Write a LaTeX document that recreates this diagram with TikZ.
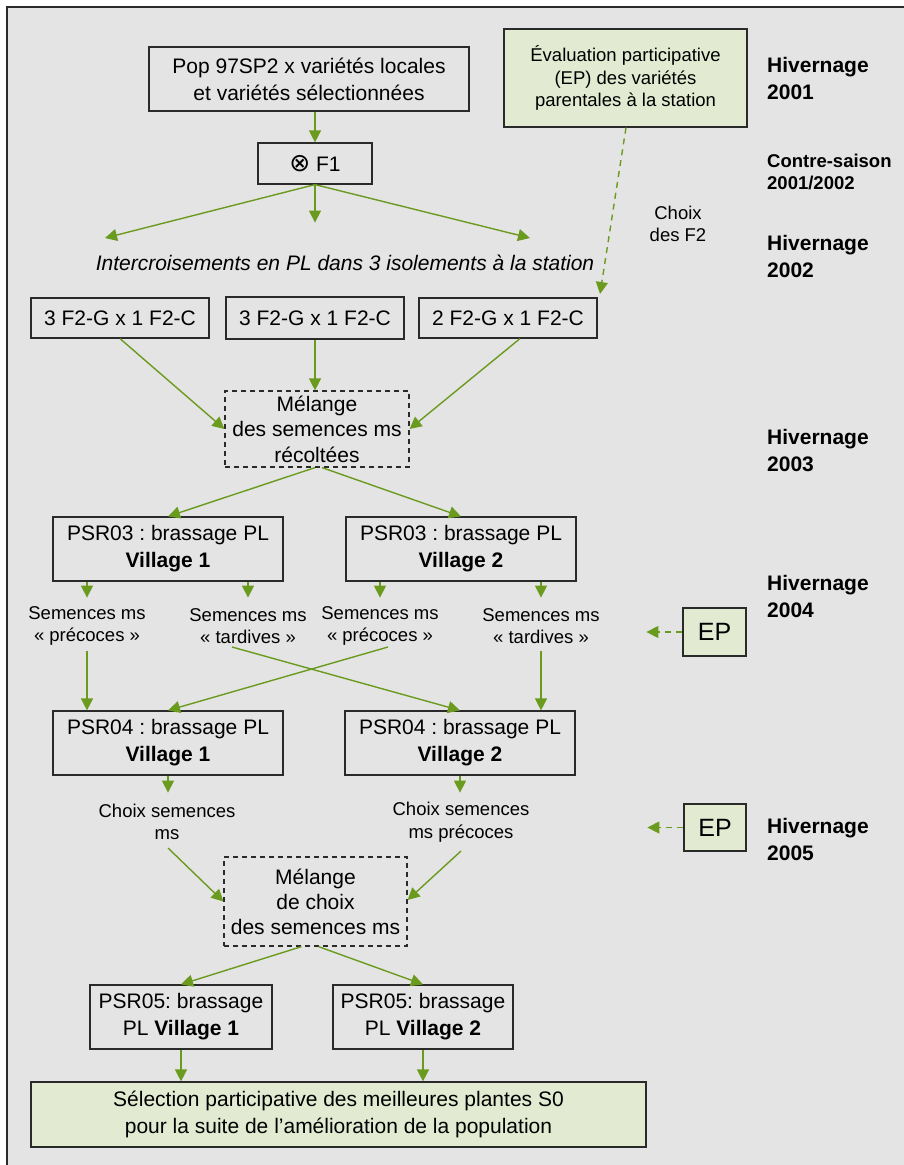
\documentclass[tikz,border=0pt]{standalone}
\usepackage{fontspec}
\setmainfont{Liberation Sans}
\newfontfamily\djv{DejaVu Sans}
\usetikzlibrary{arrows.meta,calc}
\definecolor{bg}{HTML}{E4E4E4}
\definecolor{grn}{HTML}{6B9B1E}
\definecolor{lgrn}{HTML}{E2EBD1}
\definecolor{edgec}{HTML}{2A2A2A}
\begin{document}
\frenchspacing
\begin{tikzpicture}[x=1pt,y=-1pt,
 box/.style={draw=edgec,line width=1.2pt,inner sep=0pt,align=center,font=\fontsize{21}{27}\selectfont},
 gbox/.style={box,fill=lgrn},
 dbox/.style={box,dash pattern=on 5pt off 4pt},
 lab/.style={inner sep=0pt,align=center,font=\fontsize{18.5}{22.5}\selectfont},
 season/.style={inner sep=0pt,align=left,anchor=west,font=\fontsize{21}{27}\selectfont\bfseries},
 arr/.style={draw=grn,line width=1.4pt,-{Triangle[length=12pt,width=12pt]}},
 darr/.style={arr,dash pattern=on 6pt off 5pt}]
\useasboundingbox (0,0) rectangle (904,1165);
\draw[edgec,line width=1.5pt,fill=bg] (7,7) rectangle (930,1190);

% top
\node[box,minimum width=320,minimum height=64] (pop) at (309,79) {Pop 97SP2 x variétés locales\\et variétés sélectionnées};
\node[box,minimum width=114,minimum height=41] (f1) at (315,163.5) {{\djv\fontsize{25}{25}\selectfont ⊗} F1};
\node[gbox,minimum width=243,minimum height=98,font=\fontsize{18.5}{22.5}\selectfont] (epa) at (625.5,78) {Évaluation participative\\(EP) des variétés\\parentales à la station};
\node[season] (h1) at (767,78.5) {Hivernage\\2001};
\node[season,font=\fontsize{18.5}{22.5}\selectfont\bfseries] (cs) at (767,172) {Contre-saison\\2001/2002};
\node[lab] (chf2) at (678,224) {Choix\\des F2};
\node[season] (h2) at (767,256) {Hivernage\\2002};
\node[inner sep=0pt,font=\fontsize{21}{27}\selectfont\itshape] (inter) at (345,263) {Intercroisements en PL dans 3 isolements à la station};

\draw[arr] (pop.south -| f1.north) -- (f1.north);
\coordinate (t1) at (105,238);
\coordinate (t3) at (530,238);
\draw[arr] (f1.south) -- (t1);
\draw[arr] (f1.south) -- ++(0,38);
\draw[arr] (f1.south) -- (t3);

% F2 row
\node[box,minimum width=178,minimum height=40] (f2a) at (120,318) {3 F2-G x 1 F2-C};
\node[box,minimum width=178,minimum height=42] (f2b) at (315,318) {3 F2-G x 1 F2-C};
\node[box,minimum width=178,minimum height=40] (f2c) at (508,318) {2 F2-G x 1 F2-C};
\coordinate (dend) at (600,294);
\draw[darr] ($(epa.south)+(0.5,0)$) -- (dend);

\node[dbox,minimum width=184,minimum height=76,font=\fontsize{21}{25.5}\selectfont] (mel1) at (317,429) {Mélange\\des semences ms\\récoltées};
\node[season] (h3) at (767,451) {Hivernage\\2003};
\draw[arr] (f2a.south) -- (mel1.west);
\draw[arr] (f2b.south) -- (f2b.south |- mel1.north);
\draw[arr] ($(f2c.south)+(12,0)$) -- (mel1.east);

% PSR03
\node[box,minimum width=230,minimum height=64] (p3a) at (168,549) {PSR03 : brassage PL\\\textbf{Village 1}};
\node[box,minimum width=230,minimum height=64] (p3b) at (461,549) {PSR03 : brassage PL\\\textbf{Village 2}};
\draw[arr] ($(mel1.south)+(-2,0)$) -- (p3a.north);
\draw[arr] ($(mel1.south)+(5,0)$) -- (p3b.north);

\node[lab] (s1) at (87,626) {Semences ms\\« précoces »};
\node[lab] (s2) at (248,626) {Semences ms\\« tardives »};
\node[lab] (s3) at (380,626) {Semences ms\\« précoces »};
\node[lab] (s4) at (541,626) {Semences ms\\« tardives »};
\draw[arr] (p3a.south -| s1) -- ++(0,16);
\draw[arr] (p3a.south -| s2) -- ++(0,16);
\draw[arr] (p3b.south -| s3) -- ++(0,16);
\draw[arr] (p3b.south -| s4) -- ++(0,16);

\node[gbox,minimum width=63,minimum height=48,font=\fontsize{25}{30}\selectfont] (epb) at (714.5,632) {EP};
\draw[darr] (epb.west) -- ++(-36,0);
\node[season] (h4) at (767,596) {Hivernage\\2004};

% PSR04
\node[box,minimum width=230,minimum height=64] (p4a) at (168,743) {PSR04 : brassage PL\\\textbf{Village 1}};
\node[box,minimum width=230,minimum height=64] (p4b) at (460,743) {PSR04 : brassage PL\\\textbf{Village 2}};
\draw[arr] ($(s1.center)+(0,25)$) -- (p4a.north -| s1);
\draw[arr] ($(s2.center)+(-16,21)$) -- (p4b.north);
\draw[arr] ($(s3.center)+(8,21)$) -- (p4a.north);
\draw[arr] ($(s4.center)+(0,25)$) -- (p4b.north -| s4);

\draw[arr] (p4a.south) -- ++(0,17);
\draw[arr] (p4b.south) -- ++(0,17);
\node[lab] (c1) at (167,822) {Choix semences\\ms};
\node[lab] (c2) at (461,822) {Choix semences\\ms précoces};
\node[gbox,minimum width=62,minimum height=47,font=\fontsize{25}{30}\selectfont] (epc) at (715,827.5) {EP};
\draw[darr] (epc.west) -- ++(-36,0);
\node[season] (h5) at (767,839) {Hivernage\\2005};

\node[dbox,minimum width=183,minimum height=89,font=\fontsize{21}{25}\selectfont] (mel2) at (315.5,901.5) {Mélange\\de choix\\des semences ms};
\draw[arr] ($(c1.center)+(1,26)$) -- (mel2.west);
\draw[arr] ($(c2.center)+(0,29)$) -- ($(mel2.east)+(0,-1.5)$);

% PSR05
\node[box,minimum width=182,minimum height=64] (p5a) at (181,1017) {PSR05: brassage\\PL \textbf{Village 1}};
\node[box,minimum width=180,minimum height=64] (p5b) at (423,1017) {PSR05: brassage\\PL \textbf{Village 2}};
\draw[arr] ($(mel2.south)+(-14,0)$) -- (p5a.north);
\draw[arr] ($(mel2.south)+(3,0)$) -- (p5b.north);

\node[gbox,minimum width=615,minimum height=65] (fin) at (338.5,1114.5) {Sélection participative des meilleures plantes S0\\pour la suite de l’amélioration de la population};
\draw[arr] (p5a.south) -- (p5a.south |- fin.north);
\draw[arr] (p5b.south) -- (p5b.south |- fin.north);
\end{tikzpicture}
\end{document}
